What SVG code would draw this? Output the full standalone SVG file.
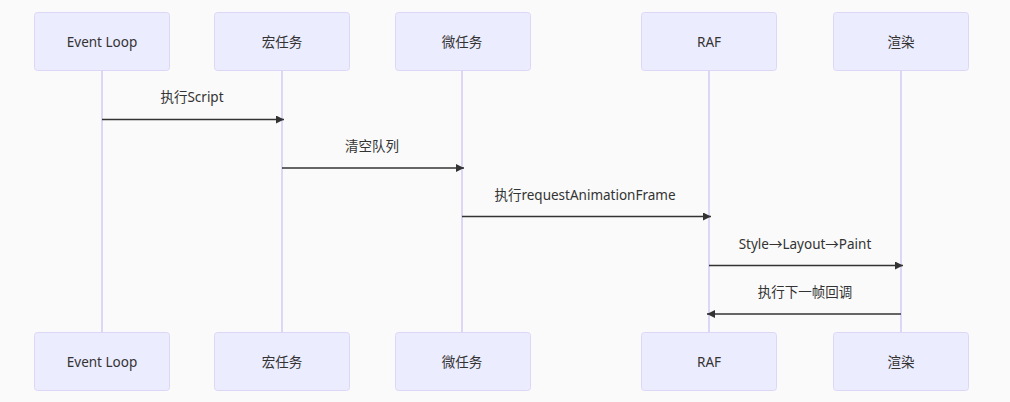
<svg xmlns="http://www.w3.org/2000/svg" width="1010" height="402" viewBox="0 0 1010 402">
<defs>
<style>
.bg{fill:#fafafa}
.actor rect{fill:#ececff;stroke:#ddd6f6;stroke-width:1}
.actor text{font-family:"Noto Sans","Noto Sans CJK SC",sans-serif;font-size:13.5px;fill:#333;text-anchor:middle;dominant-baseline:central}
.life{stroke:#ddd6f6;stroke-width:2}
.msg{stroke:#333;stroke-width:1.5;fill:none}
.lbl{font-family:"Noto Sans","Noto Sans CJK SC",sans-serif;font-size:13.5px;fill:#333;text-anchor:middle;dominant-baseline:central}
</style>
<marker id="ah" viewBox="0 0 10 10" refX="10" refY="5" markerWidth="8" markerHeight="8" markerUnits="userSpaceOnUse" orient="auto">
<path d="M0,0 L10,5 L0,10 z" fill="#333"/>
</marker>
</defs>
<rect class="bg" x="0" y="0" width="1010" height="402"/>
<g id="lifelines">
<line class="life" x1="102" y1="70" x2="102" y2="332"/>
<line class="life" x1="282" y1="70" x2="282" y2="332"/>
<line class="life" x1="462" y1="70" x2="462" y2="332"/>
<line class="life" x1="709" y1="70" x2="709" y2="332"/>
<line class="life" x1="901" y1="70" x2="901" y2="332"/>
</g>
<g id="actor-eventloop" class="actor">
<rect x="34.5" y="12.5" width="135" height="58" rx="3"/><text x="102" y="42">Event Loop</text>
<rect x="34.5" y="332.5" width="135" height="58" rx="3"/><text x="102" y="362">Event Loop</text>
</g>
<g id="actor-macro" class="actor">
<rect x="214.5" y="12.5" width="135" height="58" rx="3"/><text x="282" y="42">宏任务</text>
<rect x="214.5" y="332.5" width="135" height="58" rx="3"/><text x="282" y="362">宏任务</text>
</g>
<g id="actor-micro" class="actor">
<rect x="395.5" y="12.5" width="135" height="58" rx="3"/><text x="462" y="42">微任务</text>
<rect x="395.5" y="332.5" width="135" height="58" rx="3"/><text x="462" y="362">微任务</text>
</g>
<g id="actor-raf" class="actor">
<rect x="641.5" y="12.5" width="135" height="58" rx="3"/><text x="709" y="42">RAF</text>
<rect x="641.5" y="332.5" width="135" height="58" rx="3"/><text x="709" y="362">RAF</text>
</g>
<g id="actor-render" class="actor">
<rect x="833.5" y="12.5" width="135" height="58" rx="3"/><text x="901" y="42">渲染</text>
<rect x="833.5" y="332.5" width="135" height="58" rx="3"/><text x="901" y="362">渲染</text>
</g>
<g id="connectors">
<line class="msg" x1="102" y1="119.5" x2="284" y2="119.5" marker-end="url(#ah)"/>
<text class="lbl" x="192" y="97">执行Script</text>
<line class="msg" x1="282" y1="168" x2="464" y2="168" marker-end="url(#ah)"/>
<text class="lbl" x="372" y="146">清空队列</text>
<line class="msg" x1="462" y1="216.5" x2="711" y2="216.5" marker-end="url(#ah)"/>
<text class="lbl" x="585" y="195">执行requestAnimationFrame</text>
<line class="msg" x1="709" y1="265.5" x2="903" y2="265.5" marker-end="url(#ah)"/>
<text class="lbl" x="805" y="244">Style→Layout→Paint</text>
<line class="msg" x1="901" y1="314" x2="707" y2="314" marker-end="url(#ah)"/>
<text class="lbl" x="805" y="292">执行下一帧回调</text>
</g>
</svg>
